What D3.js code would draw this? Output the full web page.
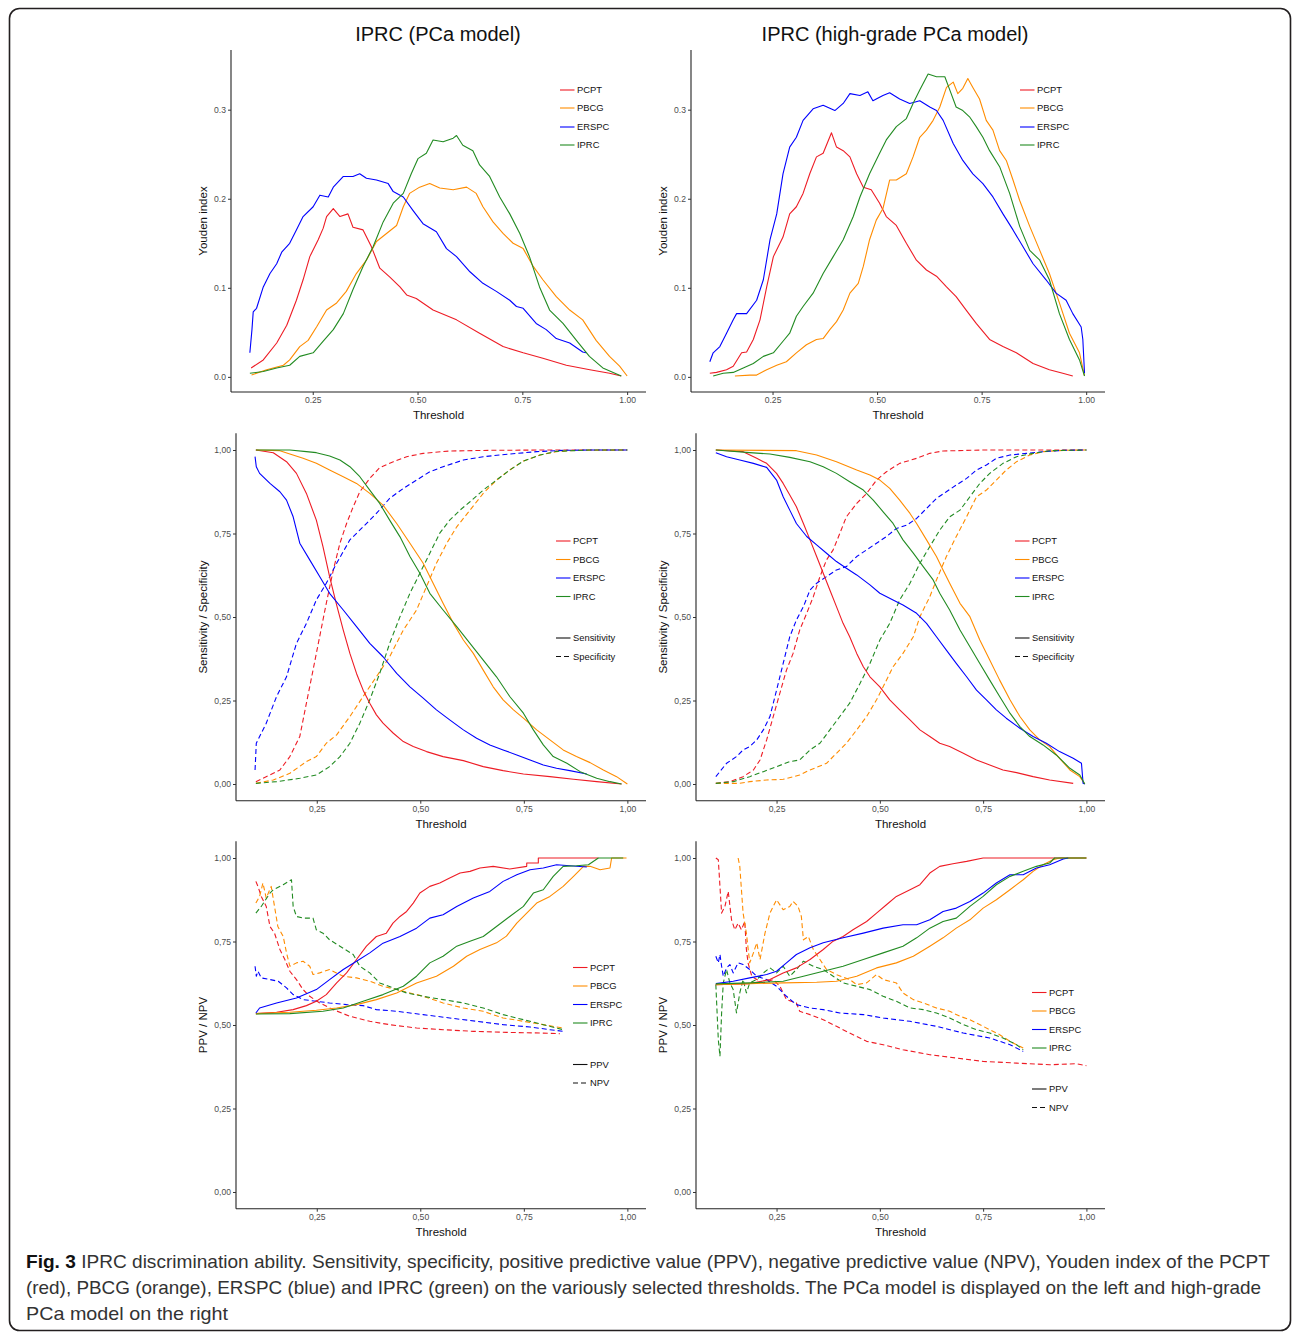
<!doctype html>
<html>
<head>
<script src="https://d3js.org/d3.v7.min.js"></script>
<style>
  body, html { margin: 0; padding: 0; overflow: hidden; background: #fff; }
  text { font-family: "Liberation Sans", Arial, Helvetica, sans-serif; }
</style>
</head>
<body>
<script>
// ---------- data (threshold, value) ----------
const models = ["PCPT", "PBCG", "ERSPC", "IPRC"];
const thresholdTicks = [0.25, 0.5, 0.75, 1.0];
const youdenTicks = [0, 0.1, 0.2, 0.3];
const unitTicks = [0, 0.25, 0.5, 0.75, 1.0];

// Youden index, PCa model
const youdenPcaPCPT = [[0.103,0.010],[0.132,0.019],[0.164,0.038],[0.188,0.058],[0.211,0.086],[0.227,0.109],[0.243,0.135],[0.263,0.154],[0.275,0.167],[0.283,0.180],[0.299,0.189],[0.315,0.180],[0.334,0.183],[0.346,0.168],[0.370,0.165],[0.390,0.146],[0.410,0.122],[0.434,0.112],[0.458,0.101],[0.474,0.092],[0.497,0.088],[0.537,0.075],[0.593,0.064],[0.648,0.049],[0.704,0.034],[0.752,0.027],[0.799,0.021],[0.855,0.013],[0.911,0.008],[0.958,0.004],[0.986,0.001]];
const youdenPcaPBCG = [[0.104,0.002],[0.140,0.008],[0.180,0.013],[0.195,0.019],[0.219,0.034],[0.239,0.041],[0.259,0.056],[0.283,0.075],[0.307,0.083],[0.330,0.096],[0.354,0.116],[0.378,0.131],[0.402,0.152],[0.426,0.161],[0.450,0.170],[0.466,0.191],[0.481,0.206],[0.505,0.213],[0.529,0.217],[0.553,0.212],[0.585,0.210],[0.617,0.213],[0.640,0.206],[0.656,0.191],[0.680,0.174],[0.704,0.161],[0.728,0.150],[0.752,0.144],[0.776,0.124],[0.799,0.109],[0.831,0.090],[0.863,0.075],[0.894,0.064],[0.926,0.041],[0.958,0.023],[0.982,0.012],[1.000,0.001]];
const youdenPcaERSPC = [[0.100,0.027],[0.105,0.053],[0.108,0.073],[0.116,0.077],[0.132,0.101],[0.148,0.116],[0.164,0.127],[0.176,0.140],[0.195,0.150],[0.211,0.165],[0.227,0.180],[0.251,0.191],[0.267,0.204],[0.287,0.202],[0.299,0.213],[0.323,0.225],[0.346,0.225],[0.362,0.228],[0.378,0.223],[0.402,0.221],[0.430,0.217],[0.442,0.208],[0.466,0.202],[0.489,0.187],[0.513,0.172],[0.545,0.163],[0.569,0.144],[0.593,0.135],[0.625,0.118],[0.656,0.105],[0.688,0.096],[0.720,0.086],[0.736,0.079],[0.752,0.077],[0.783,0.060],[0.807,0.053],[0.831,0.043],[0.863,0.038],[0.894,0.028],[0.902,0.027]];
const youdenPcaIPRC = [[0.100,0.004],[0.132,0.006],[0.164,0.010],[0.195,0.013],[0.219,0.023],[0.251,0.027],[0.275,0.040],[0.299,0.053],[0.323,0.071],[0.346,0.098],[0.370,0.124],[0.394,0.146],[0.418,0.174],[0.442,0.195],[0.466,0.206],[0.485,0.228],[0.501,0.245],[0.521,0.251],[0.537,0.266],[0.561,0.264],[0.585,0.268],[0.593,0.271],[0.608,0.260],[0.632,0.254],[0.648,0.238],[0.672,0.225],[0.696,0.202],[0.720,0.183],[0.744,0.161],[0.767,0.135],[0.791,0.101],[0.815,0.075],[0.847,0.060],[0.879,0.041],[0.910,0.023],[0.942,0.010],[0.986,0.001]];

// Youden index, high-grade PCa model
const youdenHgPCPT = [[0.100,0.004],[0.116,0.005],[0.140,0.008],[0.156,0.012],[0.176,0.027],[0.188,0.028],[0.204,0.042],[0.220,0.064],[0.236,0.101],[0.252,0.135],[0.275,0.157],[0.291,0.183],[0.307,0.191],[0.323,0.206],[0.339,0.228],[0.355,0.247],[0.371,0.251],[0.391,0.274],[0.403,0.258],[0.419,0.254],[0.435,0.247],[0.451,0.228],[0.467,0.213],[0.486,0.210],[0.506,0.195],[0.522,0.180],[0.546,0.170],[0.570,0.150],[0.594,0.131],[0.618,0.120],[0.642,0.113],[0.666,0.101],[0.689,0.090],[0.713,0.075],[0.737,0.060],[0.769,0.042],[0.801,0.034],[0.833,0.027],[0.873,0.015],[0.912,0.008],[0.944,0.004],[0.968,0.001]];
const youdenHgPBCG = [[0.160,0.001],[0.196,0.002],[0.212,0.002],[0.236,0.008],[0.260,0.013],[0.283,0.017],[0.307,0.027],[0.331,0.036],[0.355,0.042],[0.371,0.043],[0.387,0.053],[0.403,0.062],[0.419,0.075],[0.435,0.094],[0.455,0.105],[0.467,0.124],[0.482,0.154],[0.498,0.176],[0.514,0.189],[0.530,0.221],[0.546,0.221],[0.570,0.228],[0.586,0.247],[0.602,0.269],[0.618,0.277],[0.634,0.288],[0.650,0.303],[0.666,0.325],[0.682,0.331],[0.693,0.318],[0.705,0.324],[0.717,0.335],[0.729,0.325],[0.745,0.312],[0.761,0.288],[0.777,0.277],[0.793,0.254],[0.809,0.243],[0.825,0.221],[0.841,0.198],[0.865,0.169],[0.889,0.142],[0.912,0.116],[0.936,0.083],[0.960,0.049],[0.984,0.027],[0.996,0.001]];
const youdenHgERSPC = [[0.100,0.017],[0.108,0.027],[0.124,0.034],[0.140,0.049],[0.156,0.064],[0.164,0.071],[0.188,0.071],[0.212,0.086],[0.228,0.109],[0.244,0.154],[0.260,0.183],[0.275,0.228],[0.291,0.258],[0.307,0.269],[0.323,0.288],[0.347,0.301],[0.371,0.305],[0.399,0.299],[0.419,0.307],[0.435,0.318],[0.459,0.316],[0.478,0.320],[0.490,0.310],[0.514,0.316],[0.530,0.319],[0.554,0.312],[0.578,0.307],[0.602,0.310],[0.626,0.303],[0.642,0.299],[0.658,0.288],[0.682,0.262],[0.705,0.243],[0.729,0.228],[0.753,0.217],[0.777,0.202],[0.801,0.183],[0.825,0.165],[0.849,0.146],[0.873,0.127],[0.904,0.109],[0.928,0.094],[0.952,0.086],[0.968,0.071],[0.988,0.056],[0.992,0.042],[0.996,0.004]];
const youdenHgIPRC = [[0.108,0.001],[0.132,0.004],[0.156,0.005],[0.180,0.010],[0.204,0.015],[0.228,0.023],[0.252,0.027],[0.275,0.040],[0.291,0.049],[0.307,0.068],[0.323,0.079],[0.347,0.094],[0.371,0.116],[0.395,0.135],[0.419,0.154],[0.443,0.180],[0.459,0.202],[0.482,0.228],[0.506,0.251],[0.522,0.266],[0.546,0.281],[0.570,0.290],[0.586,0.307],[0.602,0.322],[0.622,0.340],[0.642,0.337],[0.662,0.337],[0.674,0.322],[0.689,0.303],[0.705,0.299],[0.721,0.292],[0.737,0.281],[0.753,0.269],[0.769,0.254],[0.793,0.236],[0.817,0.206],[0.841,0.169],[0.865,0.142],[0.889,0.131],[0.912,0.109],[0.936,0.071],[0.960,0.042],[0.984,0.019],[0.996,0.001]];

// Sensitivity, PCa model
const sensPcaPCPT = [[0.103,1.000],[0.145,0.992],[0.177,0.965],[0.201,0.930],[0.225,0.870],[0.249,0.790],[0.265,0.711],[0.281,0.621],[0.297,0.541],[0.314,0.461],[0.330,0.391],[0.346,0.331],[0.362,0.281],[0.378,0.242],[0.394,0.207],[0.410,0.182],[0.435,0.152],[0.459,0.127],[0.483,0.112],[0.515,0.097],[0.555,0.082],[0.604,0.070],[0.652,0.052],[0.700,0.040],[0.749,0.030],[0.813,0.022],[0.870,0.014],[0.926,0.007],[0.986,0.000]];
const sensPcaPBCG = [[0.103,1.000],[0.161,0.998],[0.185,0.988],[0.217,0.975],[0.249,0.960],[0.281,0.940],[0.314,0.920],[0.346,0.900],[0.378,0.870],[0.410,0.835],[0.443,0.780],[0.475,0.721],[0.507,0.661],[0.531,0.601],[0.555,0.541],[0.580,0.481],[0.604,0.431],[0.628,0.391],[0.652,0.341],[0.676,0.291],[0.700,0.252],[0.725,0.222],[0.749,0.197],[0.781,0.162],[0.813,0.132],[0.845,0.102],[0.877,0.082],[0.910,0.064],[0.942,0.042],[0.974,0.022],[1.000,0.000]];
const sensPcaERSPC = [[0.101,0.980],[0.104,0.950],[0.112,0.930],[0.137,0.900],[0.161,0.875],[0.177,0.850],[0.193,0.800],[0.209,0.721],[0.233,0.671],[0.257,0.621],[0.281,0.571],[0.314,0.521],[0.346,0.471],[0.378,0.421],[0.410,0.381],[0.443,0.331],[0.475,0.291],[0.507,0.257],[0.539,0.222],[0.571,0.192],[0.604,0.162],[0.636,0.137],[0.668,0.117],[0.700,0.102],[0.733,0.087],[0.765,0.072],[0.797,0.057],[0.829,0.047],[0.861,0.040],[0.902,0.030]];
const sensPcaIPRC = [[0.103,1.000],[0.185,1.000],[0.225,0.995],[0.249,0.992],[0.281,0.982],[0.306,0.970],[0.330,0.950],[0.354,0.920],[0.378,0.880],[0.402,0.840],[0.426,0.790],[0.451,0.740],[0.475,0.681],[0.499,0.631],[0.523,0.571],[0.555,0.521],[0.588,0.471],[0.620,0.421],[0.652,0.371],[0.684,0.321],[0.716,0.262],[0.749,0.212],[0.773,0.162],[0.797,0.117],[0.821,0.082],[0.854,0.062],[0.886,0.037],[0.926,0.017],[0.958,0.007],[0.986,0.000]];

// Specificity, PCa model
const specPcaPCPT = [[0.103,0.007],[0.137,0.027],[0.161,0.042],[0.185,0.082],[0.209,0.142],[0.225,0.242],[0.241,0.341],[0.257,0.441],[0.273,0.541],[0.290,0.641],[0.306,0.721],[0.322,0.780],[0.338,0.830],[0.354,0.875],[0.378,0.915],[0.402,0.947],[0.435,0.965],[0.467,0.980],[0.507,0.990],[0.571,0.997],[0.668,0.999],[0.800,1.000],[1.000,1.000]];
const specPcaPBCG = [[0.103,0.002],[0.145,0.012],[0.185,0.032],[0.225,0.067],[0.249,0.082],[0.273,0.122],[0.298,0.147],[0.330,0.202],[0.362,0.262],[0.394,0.321],[0.426,0.381],[0.459,0.461],[0.491,0.521],[0.515,0.591],[0.539,0.661],[0.564,0.721],[0.588,0.770],[0.620,0.820],[0.652,0.870],[0.684,0.910],[0.716,0.940],[0.749,0.967],[0.789,0.985],[0.829,0.995],[0.877,0.999],[1.000,1.000]];
const specPcaERSPC = [[0.101,0.042],[0.104,0.122],[0.112,0.142],[0.128,0.182],[0.153,0.262],[0.177,0.321],[0.201,0.421],[0.225,0.481],[0.249,0.551],[0.273,0.601],[0.298,0.661],[0.330,0.731],[0.362,0.770],[0.394,0.810],[0.426,0.855],[0.459,0.885],[0.491,0.910],[0.523,0.935],[0.555,0.950],[0.604,0.970],[0.652,0.980],[0.716,0.988],[0.781,0.995],[0.845,0.999],[0.910,1.000],[1.000,1.000]];
const specPcaIPRC = [[0.103,0.002],[0.153,0.007],[0.209,0.017],[0.249,0.027],[0.281,0.052],[0.306,0.082],[0.330,0.122],[0.354,0.182],[0.378,0.252],[0.402,0.331],[0.426,0.421],[0.451,0.501],[0.475,0.571],[0.499,0.631],[0.523,0.691],[0.547,0.751],[0.571,0.790],[0.596,0.820],[0.620,0.845],[0.652,0.880],[0.684,0.910],[0.716,0.940],[0.749,0.967],[0.789,0.985],[0.829,0.996],[0.910,1.000],[1.000,1.000]];

// Sensitivity, high-grade PCa model
const sensHgPCPT = [[0.103,1.000],[0.169,0.995],[0.202,0.975],[0.226,0.960],[0.250,0.930],[0.266,0.900],[0.282,0.865],[0.298,0.830],[0.315,0.780],[0.331,0.731],[0.347,0.681],[0.363,0.631],[0.379,0.581],[0.395,0.531],[0.411,0.481],[0.427,0.441],[0.444,0.391],[0.460,0.351],[0.476,0.321],[0.500,0.291],[0.524,0.252],[0.548,0.222],[0.573,0.192],[0.597,0.162],[0.621,0.142],[0.645,0.122],[0.669,0.112],[0.702,0.092],[0.734,0.072],[0.766,0.057],[0.798,0.042],[0.831,0.034],[0.871,0.022],[0.911,0.012],[0.968,0.002]];
const sensHgPBCG = [[0.103,1.000],[0.298,0.998],[0.347,0.985],[0.395,0.965],[0.444,0.940],[0.476,0.925],[0.500,0.910],[0.524,0.885],[0.548,0.850],[0.573,0.810],[0.589,0.780],[0.613,0.731],[0.637,0.681],[0.653,0.641],[0.669,0.601],[0.694,0.541],[0.718,0.501],[0.742,0.431],[0.766,0.371],[0.790,0.311],[0.815,0.252],[0.839,0.202],[0.863,0.162],[0.887,0.132],[0.911,0.112],[0.935,0.077],[0.960,0.042],[0.984,0.022],[0.996,0.000]];
const sensHgERSPC = [[0.103,0.992],[0.129,0.980],[0.161,0.970],[0.194,0.960],[0.226,0.948],[0.250,0.910],[0.266,0.860],[0.282,0.820],[0.298,0.780],[0.323,0.741],[0.347,0.716],[0.371,0.691],[0.395,0.666],[0.419,0.646],[0.444,0.626],[0.476,0.596],[0.500,0.571],[0.532,0.551],[0.556,0.536],[0.589,0.511],[0.613,0.481],[0.637,0.441],[0.661,0.401],[0.685,0.361],[0.710,0.321],[0.734,0.281],[0.758,0.252],[0.782,0.222],[0.806,0.197],[0.839,0.167],[0.871,0.142],[0.903,0.122],[0.935,0.097],[0.968,0.077],[0.988,0.062],[0.992,0.002],[0.996,0.000]];
const sensHgIPRC = [[0.103,1.000],[0.185,0.992],[0.234,0.988],[0.282,0.978],[0.331,0.965],[0.363,0.950],[0.395,0.930],[0.427,0.905],[0.460,0.880],[0.484,0.850],[0.508,0.815],[0.532,0.780],[0.556,0.731],[0.581,0.691],[0.605,0.651],[0.629,0.611],[0.645,0.571],[0.669,0.521],[0.694,0.461],[0.718,0.411],[0.742,0.361],[0.766,0.311],[0.790,0.262],[0.815,0.212],[0.839,0.172],[0.863,0.142],[0.895,0.117],[0.927,0.087],[0.960,0.047],[0.984,0.027],[0.996,0.000]];

// Specificity, high-grade PCa model
const specHgPCPT = [[0.103,0.002],[0.137,0.007],[0.169,0.022],[0.194,0.042],[0.210,0.072],[0.226,0.132],[0.242,0.202],[0.258,0.272],[0.274,0.341],[0.290,0.391],[0.306,0.461],[0.323,0.511],[0.339,0.561],[0.355,0.621],[0.371,0.671],[0.387,0.701],[0.403,0.750],[0.419,0.800],[0.444,0.840],[0.468,0.870],[0.492,0.910],[0.516,0.935],[0.548,0.960],[0.589,0.975],[0.621,0.990],[0.653,0.997],[0.750,1.000],[1.000,1.000]];
const specHgPBCG = [[0.103,0.002],[0.161,0.002],[0.185,0.007],[0.226,0.012],[0.266,0.014],[0.306,0.027],[0.331,0.042],[0.371,0.062],[0.395,0.092],[0.419,0.122],[0.444,0.162],[0.468,0.202],[0.492,0.252],[0.508,0.291],[0.532,0.351],[0.556,0.391],[0.581,0.441],[0.597,0.501],[0.621,0.561],[0.637,0.611],[0.661,0.681],[0.685,0.741],[0.710,0.800],[0.734,0.860],[0.758,0.880],[0.782,0.910],[0.806,0.940],[0.831,0.965],[0.863,0.985],[0.895,0.995],[0.944,0.999],[1.000,1.000]];
const specHgERSPC = [[0.103,0.022],[0.129,0.062],[0.153,0.082],[0.169,0.102],[0.185,0.112],[0.202,0.132],[0.218,0.162],[0.234,0.202],[0.250,0.281],[0.266,0.361],[0.282,0.441],[0.298,0.491],[0.315,0.531],[0.331,0.581],[0.347,0.601],[0.371,0.621],[0.395,0.641],[0.419,0.651],[0.444,0.681],[0.468,0.701],[0.492,0.721],[0.516,0.741],[0.540,0.765],[0.565,0.775],[0.589,0.795],[0.613,0.825],[0.637,0.855],[0.661,0.875],[0.685,0.895],[0.710,0.915],[0.734,0.940],[0.758,0.955],[0.782,0.975],[0.815,0.985],[0.855,0.990],[0.895,0.995],[0.944,0.999],[1.000,1.000]];
const specHgIPRC = [[0.103,0.002],[0.145,0.007],[0.185,0.022],[0.218,0.037],[0.250,0.052],[0.282,0.067],[0.306,0.072],[0.331,0.102],[0.355,0.122],[0.379,0.162],[0.403,0.202],[0.427,0.242],[0.452,0.301],[0.476,0.361],[0.500,0.431],[0.524,0.481],[0.548,0.551],[0.573,0.601],[0.597,0.661],[0.621,0.711],[0.645,0.760],[0.669,0.800],[0.694,0.820],[0.718,0.860],[0.742,0.900],[0.766,0.930],[0.798,0.960],[0.831,0.980],[0.871,0.990],[0.911,0.998],[1.000,1.000]];

// PPV, PCa model
const ppvPcaPCPT = [[0.103,0.534],[0.153,0.538],[0.193,0.546],[0.225,0.558],[0.249,0.571],[0.273,0.591],[0.298,0.626],[0.322,0.656],[0.346,0.696],[0.370,0.736],[0.394,0.765],[0.418,0.775],[0.434,0.805],[0.451,0.825],[0.467,0.840],[0.483,0.865],[0.499,0.895],[0.523,0.915],[0.547,0.925],[0.571,0.940],[0.596,0.955],[0.620,0.960],[0.644,0.970],[0.676,0.975],[0.716,0.967],[0.757,0.975],[0.757,0.985],[0.785,0.985],[0.785,1.000],[0.930,1.000]];
const ppvPcaPBCG = [[0.103,0.534],[0.185,0.538],[0.249,0.544],[0.298,0.551],[0.346,0.561],[0.394,0.576],[0.443,0.596],[0.491,0.626],[0.539,0.646],[0.580,0.676],[0.612,0.706],[0.644,0.726],[0.684,0.746],[0.708,0.766],[0.733,0.805],[0.757,0.835],[0.781,0.865],[0.813,0.885],[0.845,0.915],[0.870,0.945],[0.894,0.975],[0.910,0.975],[0.934,0.965],[0.958,0.970],[0.962,1.000],[0.998,1.000]];
const ppvPcaERSPC = [[0.103,0.536],[0.112,0.551],[0.153,0.566],[0.201,0.581],[0.249,0.606],[0.281,0.636],[0.314,0.666],[0.346,0.691],[0.378,0.716],[0.410,0.745],[0.451,0.765],[0.491,0.790],[0.523,0.820],[0.555,0.830],[0.588,0.855],[0.628,0.880],[0.668,0.900],[0.700,0.930],[0.733,0.950],[0.765,0.965],[0.797,0.970],[0.829,0.980],[0.861,0.977],[0.902,0.973]];
const ppvPcaIPRC = [[0.103,0.533],[0.185,0.534],[0.265,0.541],[0.314,0.551],[0.362,0.571],[0.410,0.591],[0.459,0.616],[0.491,0.646],[0.523,0.686],[0.555,0.706],[0.588,0.736],[0.620,0.751],[0.652,0.765],[0.684,0.795],[0.716,0.825],[0.749,0.855],[0.773,0.895],[0.797,0.905],[0.821,0.945],[0.845,0.975],[0.877,0.977],[0.906,0.980],[0.930,1.000],[0.990,1.000]];

// NPV, PCa model
const npvPcaPCPT = [[0.103,0.930],[0.108,0.915],[0.116,0.885],[0.128,0.855],[0.137,0.795],[0.148,0.775],[0.161,0.726],[0.173,0.696],[0.185,0.661],[0.201,0.636],[0.217,0.606],[0.233,0.586],[0.257,0.566],[0.290,0.546],[0.330,0.526],[0.378,0.511],[0.426,0.501],[0.491,0.491],[0.555,0.486],[0.628,0.481],[0.708,0.478],[0.789,0.476],[0.837,0.474]];
const npvPcaPBCG = [[0.103,0.865],[0.112,0.885],[0.120,0.925],[0.128,0.880],[0.140,0.915],[0.148,0.855],[0.156,0.795],[0.169,0.765],[0.177,0.716],[0.185,0.676],[0.201,0.686],[0.217,0.691],[0.233,0.676],[0.241,0.651],[0.257,0.656],[0.281,0.666],[0.314,0.646],[0.346,0.641],[0.378,0.631],[0.410,0.616],[0.459,0.601],[0.507,0.586],[0.555,0.566],[0.604,0.551],[0.652,0.541],[0.700,0.521],[0.749,0.511],[0.797,0.501],[0.845,0.491]];
const npvPcaERSPC = [[0.101,0.676],[0.104,0.646],[0.108,0.661],[0.116,0.641],[0.137,0.636],[0.157,0.631],[0.177,0.611],[0.193,0.591],[0.217,0.576],[0.249,0.571],[0.281,0.566],[0.322,0.561],[0.362,0.558],[0.394,0.546],[0.443,0.541],[0.507,0.531],[0.571,0.521],[0.636,0.511],[0.700,0.501],[0.765,0.494],[0.813,0.486],[0.845,0.481]];
const npvPcaIPRC = [[0.103,0.835],[0.116,0.855],[0.137,0.895],[0.145,0.905],[0.169,0.920],[0.189,0.935],[0.193,0.855],[0.201,0.825],[0.217,0.820],[0.241,0.820],[0.249,0.785],[0.265,0.775],[0.281,0.755],[0.306,0.736],[0.338,0.711],[0.354,0.676],[0.378,0.656],[0.402,0.626],[0.434,0.611],[0.467,0.596],[0.507,0.586],[0.555,0.576],[0.604,0.566],[0.652,0.551],[0.700,0.531],[0.749,0.516],[0.797,0.501],[0.845,0.486]];

// PPV, high-grade PCa model
const ppvHgPCPT = [[0.103,0.621],[0.185,0.624],[0.234,0.636],[0.266,0.656],[0.298,0.671],[0.331,0.696],[0.363,0.726],[0.387,0.751],[0.411,0.765],[0.435,0.785],[0.468,0.810],[0.492,0.835],[0.516,0.860],[0.540,0.885],[0.573,0.905],[0.597,0.920],[0.621,0.955],[0.645,0.975],[0.677,0.983],[0.710,0.990],[0.750,1.000],[1.000,1.000]];
const ppvHgPBCG = [[0.103,0.621],[0.185,0.624],[0.266,0.626],[0.347,0.628],[0.395,0.631],[0.444,0.646],[0.492,0.671],[0.540,0.686],[0.581,0.706],[0.621,0.736],[0.653,0.761],[0.685,0.790],[0.718,0.815],[0.750,0.850],[0.782,0.875],[0.815,0.905],[0.847,0.935],[0.871,0.960],[0.895,0.980],[0.919,0.995],[0.935,1.000],[1.000,1.000]];
const ppvHgERSPC = [[0.103,0.624],[0.145,0.631],[0.185,0.641],[0.226,0.651],[0.250,0.661],[0.274,0.686],[0.298,0.711],[0.331,0.731],[0.363,0.746],[0.411,0.761],[0.460,0.775],[0.508,0.790],[0.556,0.800],[0.589,0.800],[0.621,0.815],[0.653,0.840],[0.685,0.850],[0.718,0.870],[0.750,0.895],[0.782,0.925],[0.815,0.950],[0.847,0.950],[0.879,0.970],[0.911,0.980],[0.944,0.997],[0.956,1.000]];
const ppvHgIPRC = [[0.103,0.623],[0.185,0.626],[0.266,0.631],[0.315,0.646],[0.363,0.661],[0.411,0.676],[0.460,0.696],[0.508,0.716],[0.556,0.736],[0.589,0.761],[0.621,0.790],[0.653,0.810],[0.685,0.820],[0.718,0.855],[0.750,0.885],[0.782,0.920],[0.815,0.945],[0.847,0.960],[0.879,0.975],[0.911,0.985],[0.923,1.000],[1.000,1.000]];

// NPV, high-grade PCa model
const npvHgPCPT = [[0.103,1.000],[0.109,0.995],[0.117,0.835],[0.125,0.855],[0.133,0.900],[0.141,0.815],[0.149,0.785],[0.157,0.805],[0.165,0.785],[0.173,0.810],[0.177,0.726],[0.181,0.686],[0.190,0.646],[0.202,0.636],[0.218,0.626],[0.242,0.636],[0.258,0.616],[0.274,0.576],[0.298,0.566],[0.306,0.541],[0.331,0.531],[0.363,0.516],[0.395,0.496],[0.427,0.476],[0.468,0.451],[0.508,0.441],[0.556,0.426],[0.621,0.411],[0.685,0.401],[0.750,0.391],[0.831,0.386],[0.911,0.381],[0.976,0.384],[1.000,0.378]];
const npvHgPBCG = [[0.157,1.000],[0.161,0.975],[0.169,0.835],[0.177,0.775],[0.185,0.686],[0.194,0.716],[0.202,0.746],[0.210,0.696],[0.222,0.775],[0.234,0.835],[0.250,0.875],[0.266,0.845],[0.282,0.855],[0.290,0.870],[0.302,0.855],[0.310,0.825],[0.315,0.755],[0.327,0.765],[0.339,0.726],[0.355,0.696],[0.371,0.666],[0.395,0.651],[0.427,0.636],[0.444,0.621],[0.468,0.626],[0.492,0.651],[0.508,0.636],[0.524,0.631],[0.540,0.626],[0.556,0.596],[0.581,0.576],[0.605,0.566],[0.637,0.551],[0.669,0.541],[0.694,0.526],[0.718,0.516],[0.750,0.496],[0.790,0.471],[0.815,0.451],[0.847,0.431]];
const npvHgERSPC = [[0.103,0.706],[0.109,0.686],[0.113,0.711],[0.117,0.676],[0.121,0.646],[0.129,0.671],[0.137,0.681],[0.145,0.656],[0.157,0.686],[0.169,0.681],[0.185,0.666],[0.202,0.646],[0.226,0.636],[0.250,0.616],[0.274,0.586],[0.298,0.561],[0.331,0.551],[0.363,0.546],[0.403,0.536],[0.460,0.531],[0.508,0.521],[0.573,0.511],[0.637,0.496],[0.702,0.476],[0.766,0.461],[0.815,0.441],[0.847,0.421]];
const npvHgIPRC = [[0.103,0.621],[0.109,0.456],[0.113,0.406],[0.117,0.536],[0.121,0.626],[0.129,0.666],[0.137,0.626],[0.145,0.606],[0.153,0.536],[0.161,0.596],[0.169,0.636],[0.177,0.596],[0.185,0.626],[0.202,0.636],[0.218,0.656],[0.234,0.671],[0.250,0.656],[0.266,0.676],[0.282,0.646],[0.298,0.666],[0.315,0.691],[0.339,0.676],[0.363,0.666],[0.387,0.646],[0.411,0.626],[0.444,0.616],[0.476,0.606],[0.508,0.586],[0.540,0.571],[0.573,0.551],[0.605,0.546],[0.637,0.536],[0.669,0.521],[0.702,0.501],[0.734,0.486],[0.766,0.476],[0.798,0.461],[0.831,0.441],[0.847,0.426]];

// ---------- drawing ----------
const W = 1292, H = 1333;
const color = d3.scaleOrdinal().domain(models).range(["#ee1c25", "#ff8c00", "#0000ff", "#228b22"]);
const fmtDot2 = d3.format(".2f");
const fmtDot1 = d3.format(".1f");
const fmtComma2 = (d) => d3.format(".2f")(d).replace(".", ",");

const svg = d3.create("svg").attr("width", W).attr("height", H);
svg.append("rect").attr("width", W).attr("height", H).attr("fill", "#fff");
svg.append("rect")
    .attr("x", 9.5).attr("y", 8.5)
    .attr("width", 1281).attr("height", 1322)
    .attr("rx", 10).attr("fill", "none")
    .attr("stroke", "#231f20").attr("stroke-width", 1.6);

const titles = [
    { text: "IPRC (PCa model)", x: 438 },
    { text: "IPRC (high-grade PCa model)", x: 895 }
];
svg.selectAll("text.title").data(titles).join("text")
    .attr("class", "title")
    .attr("x", (d) => d.x).attr("y", 41)
    .attr("text-anchor", "middle")
    .attr("font-size", 20)
    .attr("fill", "#111")
    .text((d) => d.text);

const panels = [
    { xr: [231, 646], yr: [392, 50], yDomain: [-0.017, 0.367], yTicks: youdenTicks, xFmt: fmtDot2, yFmt: fmtDot1,
      yLabel: "Youden index", yLabelX: 203,
      solid: [youdenPcaPCPT, youdenPcaPBCG, youdenPcaERSPC, youdenPcaIPRC], dashed: null,
      legend: { x: 560, rows: [90, 108, 127, 145] }, types: null },
    { xr: [691, 1105], yr: [392, 50], yDomain: [-0.017, 0.367], yTicks: youdenTicks, xFmt: fmtDot2, yFmt: fmtDot1,
      yLabel: "Youden index", yLabelX: 663,
      solid: [youdenHgPCPT, youdenHgPBCG, youdenHgERSPC, youdenHgIPRC], dashed: null,
      legend: { x: 1020, rows: [90, 108, 127, 145] }, types: null },
    { xr: [236, 646], yr: [800.7, 433.3], yDomain: [-0.05, 1.05], yTicks: unitTicks, xFmt: fmtComma2, yFmt: fmtComma2,
      yLabel: "Sensitivity / Specificity", yLabelX: 203,
      solid: [sensPcaPCPT, sensPcaPBCG, sensPcaERSPC, sensPcaIPRC],
      dashed: [specPcaPCPT, specPcaPBCG, specPcaERSPC, specPcaIPRC],
      legend: { x: 556, rows: [541, 559.5, 578, 596.5] },
      types: { rows: [638, 656.5], labels: ["Sensitivity", "Specificity"] } },
    { xr: [696, 1105], yr: [800.7, 433.3], yDomain: [-0.05, 1.05], yTicks: unitTicks, xFmt: fmtComma2, yFmt: fmtComma2,
      yLabel: "Sensitivity / Specificity", yLabelX: 663,
      solid: [sensHgPCPT, sensHgPBCG, sensHgERSPC, sensHgIPRC],
      dashed: [specHgPCPT, specHgPBCG, specHgERSPC, specHgIPRC],
      legend: { x: 1015, rows: [541, 559.5, 578, 596.5] },
      types: { rows: [638, 656.5], labels: ["Sensitivity", "Specificity"] } },
    { xr: [236, 646], yr: [1208.7, 841.3], yDomain: [-0.05, 1.05], yTicks: unitTicks, xFmt: fmtComma2, yFmt: fmtComma2,
      yLabel: "PPV / NPV", yLabelX: 203,
      solid: [ppvPcaPCPT, ppvPcaPBCG, ppvPcaERSPC, ppvPcaIPRC],
      dashed: [npvPcaPCPT, npvPcaPBCG, npvPcaERSPC, npvPcaIPRC],
      legend: { x: 573, rows: [967.5, 986, 1004.5, 1023] },
      types: { rows: [1064.5, 1083], labels: ["PPV", "NPV"] } },
    { xr: [696, 1105], yr: [1208.7, 841.3], yDomain: [-0.05, 1.05], yTicks: unitTicks, xFmt: fmtComma2, yFmt: fmtComma2,
      yLabel: "PPV / NPV", yLabelX: 663,
      solid: [ppvHgPCPT, ppvHgPBCG, ppvHgERSPC, ppvHgIPRC],
      dashed: [npvHgPCPT, npvHgPBCG, npvHgERSPC, npvHgIPRC],
      legend: { x: 1032, rows: [992.5, 1011, 1029.5, 1048] },
      types: { rows: [1089, 1107.5], labels: ["PPV", "NPV"] } }
];

panels.forEach(drawPanel);

function drawPanel(p) {
    const x = d3.scaleLinear().domain([0.055, 1.045]).range(p.xr);
    const y = d3.scaleLinear().domain(p.yDomain).range(p.yr);
    const g = svg.append("g");

    const xAxis = g.append("g")
        .attr("transform", `translate(0,${p.yr[0]})`)
        .call(d3.axisBottom(x).tickValues(thresholdTicks).tickFormat(p.xFmt).tickSize(3).tickPadding(2));
    const yAxis = g.append("g")
        .attr("transform", `translate(${p.xr[0]},0)`)
        .call(d3.axisLeft(y).tickValues(p.yTicks).tickFormat(p.yFmt).tickSize(3).tickPadding(2));
    [xAxis, yAxis].forEach((a) => {
        a.select(".domain").attr("stroke", "#222").attr("stroke-width", 1.1);
        a.selectAll(".tick line").attr("stroke", "#333");
        a.selectAll(".tick text")
            .attr("fill", "#4d4d4d")
            .attr("font-size", 8.6)
            .attr("font-family", "'Liberation Sans', Arial, sans-serif");
    });
    // ggplot-style axis lines: straight lines without end ticks
    xAxis.select(".domain").attr("d", `M${p.xr[0]},0H${p.xr[1]}`);
    yAxis.select(".domain").attr("d", `M0,${p.yr[0]}V${p.yr[1]}`);

    g.append("text")
        .attr("x", (p.xr[0] + p.xr[1]) / 2).attr("y", p.yr[0] + 27)
        .attr("text-anchor", "middle").attr("font-size", 11.5).attr("fill", "#111")
        .text("Threshold");
    g.append("text")
        .attr("transform", `translate(${p.yLabelX + 4},${(p.yr[0] + p.yr[1]) / 2}) rotate(-90)`)
        .attr("text-anchor", "middle").attr("font-size", 11.5).attr("fill", "#111")
        .text(p.yLabel);

    const line = d3.line().x((d) => x(d[0])).y((d) => y(d[1]));
    const plot = g.append("g").attr("fill", "none").attr("stroke-width", 1.1)
        .attr("stroke-linejoin", "round");
    if (p.dashed) {
        plot.selectAll("path.dash").data(p.dashed).join("path")
            .attr("class", "dash")
            .attr("stroke", (d, i) => color(models[i]))
            .attr("stroke-dasharray", "5,3")
            .attr("d", line);
    }
    plot.selectAll("path.solid").data(p.solid).join("path")
        .attr("class", "solid")
        .attr("stroke", (d, i) => color(models[i]))
        .attr("d", line);

    const lg = g.append("g");
    lg.selectAll("line").data(models).join("line")
        .attr("x1", p.legend.x).attr("x2", p.legend.x + 14.5)
        .attr("y1", (d, i) => p.legend.rows[i]).attr("y2", (d, i) => p.legend.rows[i])
        .attr("stroke", (d) => color(d)).attr("stroke-width", 1.1);
    lg.selectAll("text").data(models).join("text")
        .attr("x", p.legend.x + 17).attr("y", (d, i) => p.legend.rows[i] + 3.3)
        .attr("font-size", 9.4).attr("fill", "#111")
        .text((d) => d);

    if (p.types) {
        const tg = g.append("g");
        tg.selectAll("line").data(p.types.labels).join("line")
            .attr("x1", p.legend.x).attr("x2", p.legend.x + 14.5)
            .attr("y1", (d, i) => p.types.rows[i]).attr("y2", (d, i) => p.types.rows[i])
            .attr("stroke", "#111").attr("stroke-width", 1.1)
            .attr("stroke-dasharray", (d, i) => (i === 1 ? "5,3" : null));
        tg.selectAll("text").data(p.types.labels).join("text")
            .attr("x", p.legend.x + 17).attr("y", (d, i) => p.types.rows[i] + 3.3)
            .attr("font-size", 9.4).attr("fill", "#111")
            .text((d) => d);
    }
}

// caption
const captionLines = [
    { y: 1268, len: 1244, bold: "Fig. 3", rest: " IPRC discrimination ability. Sensitivity, specificity, positive predictive value (PPV), negative predictive value (NPV), Youden index of the PCPT" },
    { y: 1294, len: 1235, bold: "", rest: "(red), PBCG (orange), ERSPC (blue) and IPRC (green) on the variously selected thresholds. The PCa model is displayed on the left and high-grade" },
    { y: 1320, len: 202, bold: "", rest: "PCa model on the right" }
];
captionLines.forEach((c) => {
    const t = svg.append("text")
        .attr("x", 26).attr("y", c.y)
        .attr("font-size", 19)
        .attr("font-family", "'Open Sans', 'Noto Sans', sans-serif")
        .attr("fill", "#333")
        .attr("textLength", c.len).attr("lengthAdjust", "spacingAndGlyphs");
    if (c.bold) t.append("tspan").attr("font-weight", "bold").attr("fill", "#111").text(c.bold);
    t.append("tspan").text(c.rest);
});

document.body.appendChild(svg.node());
</script>
</body>
</html>
